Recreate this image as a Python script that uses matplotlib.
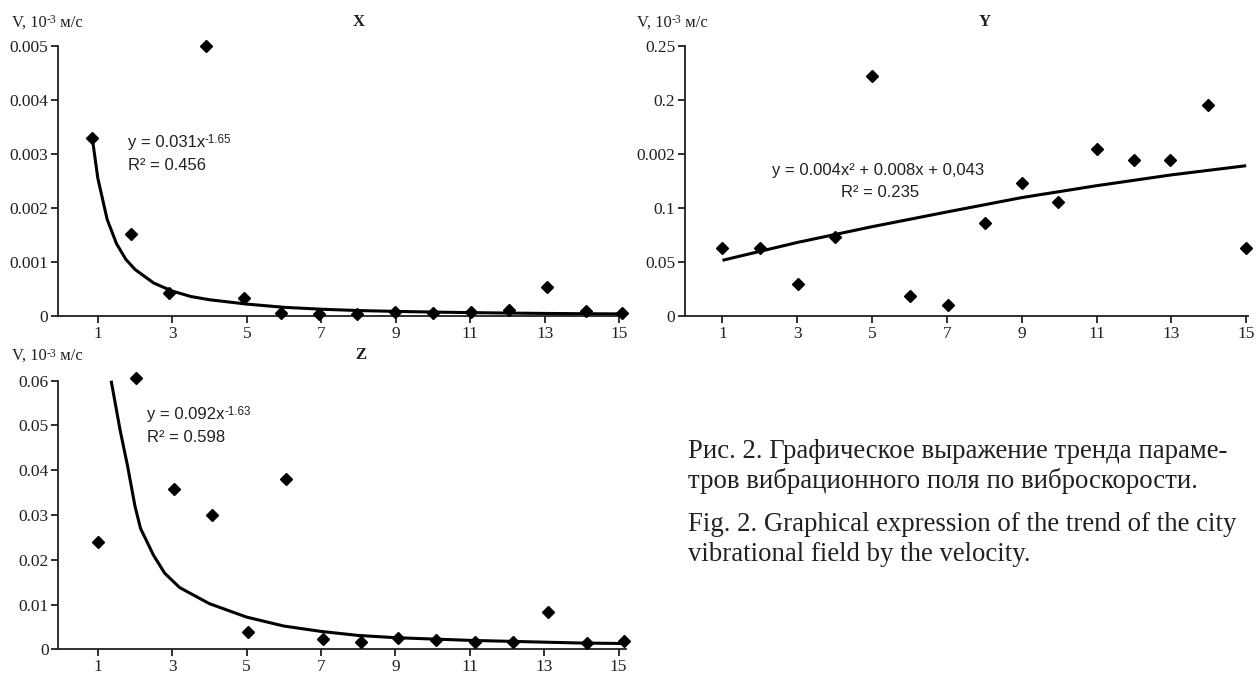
import numpy as np
import matplotlib
matplotlib.use("Agg")
import matplotlib.pyplot as plt

# ── data ─────────────────────────────────────────────────────────────────────
x_pts_X = [0.85, 1.9, 2.9, 3.9, 4.92, 5.93, 6.95, 7.96, 8.99, 9.99, 11.02, 12.03, 13.05, 14.1, 15.06]
v_pts_X = [0.00329, 0.00151, 0.00043, 0.0050, 0.00034, 0.00005, 0.00004, 0.00003,
           0.00007, 0.00006, 0.00008, 0.00011, 0.00053, 0.00009, 0.00005]
x_trend_X = [0.85, 1.0, 1.25, 1.5, 1.75, 2.0, 2.5, 3.0, 3.5, 4.0, 5.0, 6.0, 7.0,
             8.0, 9.0, 10.0, 11.0, 12.0, 13.0, 14.0, 15.06]
v_trend_X = [0.0033, 0.00255, 0.00179, 0.00134, 0.00105, 0.00086, 0.00061, 0.00046,
             0.00036, 0.00030, 0.00022, 0.00016, 0.000125, 0.0001, 0.000085, 0.000072,
             0.000062, 0.000054, 0.000047, 0.000042, 0.000038]

x_pts_Y = [1.0, 1.99, 3.02, 4.0, 5.0, 6.0, 7.03, 8.02, 9.0, 9.98, 11.0, 12.0, 12.97, 13.99, 15.0]
v_pts_Y = [0.0626, 0.0632, 0.0299, 0.0728, 0.222, 0.0182, 0.0099, 0.0857,
           0.1227, 0.1055, 0.1545, 0.1443, 0.1443, 0.1955, 0.0626]
x_trend_Y = [1, 3, 5, 7, 9, 11, 13, 15]
v_trend_Y = [0.0515, 0.068, 0.0826, 0.0962, 0.1095, 0.1205, 0.1305, 0.139]

x_pts_Z = [1.0, 2.03, 3.05, 4.06, 5.05, 6.06, 7.06, 8.07, 9.08, 10.1, 11.14, 12.15, 13.11, 14.16, 15.15]
v_pts_Z = [0.0239, 0.0605, 0.0357, 0.0300, 0.0038, 0.0381, 0.0022, 0.0016,
           0.0025, 0.0021, 0.0016, 0.0017, 0.0083, 0.0015, 0.0019]
x_trend_Z = [1.36, 1.6, 1.8, 2.0, 2.15, 2.5, 2.8, 3.2, 4.0, 5.0, 6.0, 7.0, 8.0,
             9.0, 10.0, 11.0, 12.0, 13.0, 14.0, 15.15]
v_trend_Z = [0.060, 0.049, 0.041, 0.032, 0.027, 0.021, 0.017, 0.0138, 0.0102, 0.0072,
             0.0052, 0.0040, 0.0031, 0.0026, 0.0023, 0.0020, 0.0018, 0.0016, 0.0014, 0.0013]

x_ticks = [1, 3, 5, 7, 9, 11, 13, 15]
y_ticks_X = [0, 0.001, 0.002, 0.003, 0.004, 0.005]
y_labels_X = ["0", "0.001", "0.002", "0.003", "0.004", "0.005"]
y_ticks_Y = [0, 0.05, 0.1, 0.15, 0.2, 0.25]
y_labels_Y = ["0", "0.05", "0.1", "0.002", "0.2", "0.25"]
y_ticks_Z = [0, 0.01, 0.02, 0.03, 0.04, 0.05, 0.06]
y_labels_Z = ["0", "0.01", "0.02", "0.03", "0.04", "0.05", "0.06"]

panel_titles = ["X", "Y", "Z"]
caption = ["Рис. 2. Графическое выражение тренда параме-",
           "тров вибрационного поля по виброскорости.",
           "Fig. 2. Graphical expression of the trend of the city",
           "vibrational field by the velocity."]

# ── style ─────────────────────────────────────────────────────────────────────
INK = "#231f20"
SERIF = "Liberation Serif"
SANS = "Liberation Sans"

fig = plt.figure(figsize=(12.57, 6.73), dpi=100)


def panel(rect, xlim, ylim, yt, ytl, xp, vp, xt, vt):
    ax = fig.add_axes(rect)
    ax.set_xlim(*xlim)
    ax.set_ylim(*ylim)
    for s in ("top", "right"):
        ax.spines[s].set_visible(False)
    for s in ("left", "bottom"):
        ax.spines[s].set_linewidth(1.3)
        ax.spines[s].set_color(INK)
    ax.set_xticks(x_ticks)
    ax.set_xticklabels([str(t) for t in x_ticks])
    ax.set_yticks(yt)
    ax.set_yticklabels(ytl)
    ax.tick_params(direction="out", length=5, width=1.3, color=INK,
                   labelsize=12.5, labelcolor=INK, pad=2)
    for lab in ax.get_xticklabels() + ax.get_yticklabels():
        lab.set_family(SERIF)
    ax.plot(xt, vt, color="black", lw=2.2, solid_capstyle="butt", clip_on=False, zorder=2)
    ax.plot(xp, vp, ls="none", marker="D", ms=6.3, color="black", clip_on=False, zorder=3)
    return ax


panel([0.0461, 0.5305, 0.451, 0.4016], (-0.07, 15.15), (0, 0.005),
      y_ticks_X, y_labels_X, x_pts_X, v_pts_X, x_trend_X, v_trend_X)
panel([0.5450, 0.5305, 0.4479, 0.4016], (0, 15.05), (0, 0.25),
      y_ticks_Y, y_labels_Y, x_pts_Y, v_pts_Y, x_trend_Y, v_trend_Y)
panel([0.0464, 0.0352, 0.4516, 0.3991], (-0.06, 15.2), (0, 0.06),
      y_ticks_Z, y_labels_Z, x_pts_Z, v_pts_Z, x_trend_Z, v_trend_Z)


def with_sup(x, y, base, sup, tail="", family=SANS, size=12, ha="left"):
    t = fig.text(x, y, base, family=family, fontsize=size, color=INK, ha=ha, va="center")
    s = fig.text(0, 0, sup, family=family, fontsize=size * 0.7, color=INK)
    fig.canvas.draw()
    r = fig.canvas.get_renderer()
    bb = t.get_window_extent(r).transformed(fig.transFigure.inverted())
    s.set_position((bb.x1, bb.y1 - (bb.y1 - bb.y0) * 0.35))
    s.set_va("center")
    if tail:
        sb = s.get_window_extent(r).transformed(fig.transFigure.inverted())
        fig.text(sb.x1, y, tail, family=family, fontsize=size, color=INK, va="center")


# axis labels and titles
for fx, fy in [(0.0093, 0.9663), (0.5065, 0.9663), (0.0093, 0.471)]:
    with_sup(fx, fy, "V, 10", "-3", " м/с", family=SERIF, size=12)
for (fx, fy), name in zip([(0.2850, 0.9669), (0.7831, 0.9677), (0.2870, 0.4725)], panel_titles):
    fig.text(fx, fy, name, family=SERIF, fontsize=12, fontweight="bold", color=INK,
             ha="center", va="center")

# trend equations
with_sup(0.1016, 0.7886, "y = 0.031x", "-1.65")
fig.text(0.1016, 0.7538, "R² = 0.456", family=SANS, fontsize=12, color=INK, va="center")
fig.text(0.6985, 0.7464, "y = 0.004x² + 0.008x + 0,043", family=SANS, fontsize=12,
         color=INK, ha="center", va="center")
fig.text(0.7001, 0.7137, "R² = 0.235", family=SANS, fontsize=12, color=INK,
         ha="center", va="center")
with_sup(0.1167, 0.3848, "y = 0.092x", "-1.63")
fig.text(0.1167, 0.3502, "R² = 0.598", family=SANS, fontsize=12, color=INK, va="center")

# caption
for fy, line in zip([0.3195, 0.2749, 0.2110, 0.1664], caption):
    fig.text(0.5476, fy, line, family=SERIF, fontsize=19.3, color=INK, va="baseline")

fig.savefig("out.png", dpi=100)
